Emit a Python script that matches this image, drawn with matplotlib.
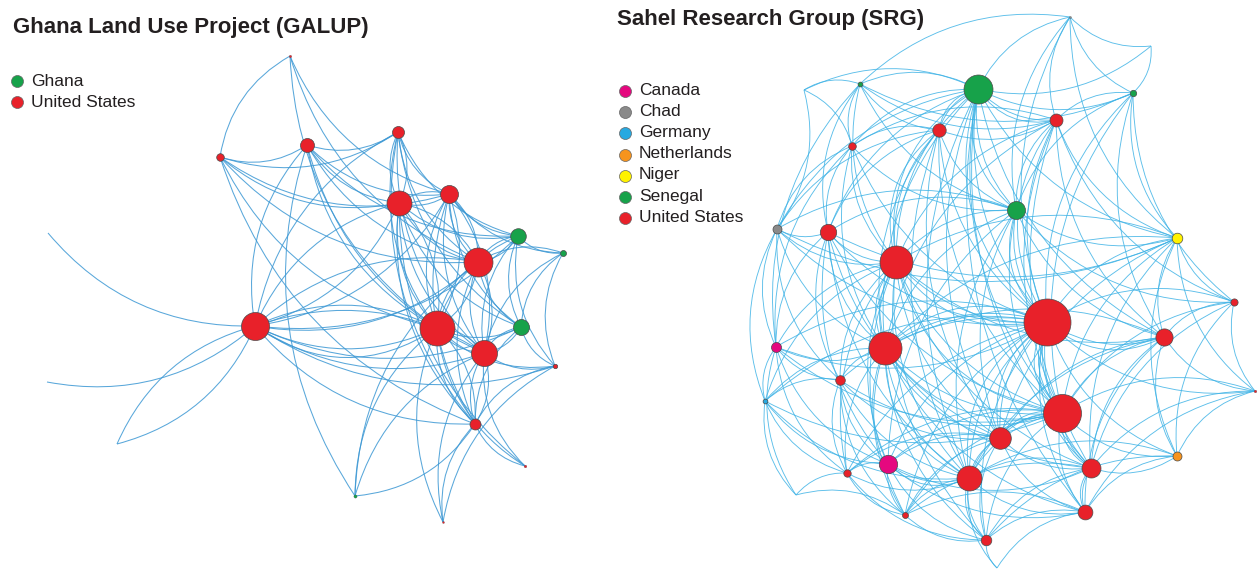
import numpy as np
import matplotlib
matplotlib.use("Agg")
import matplotlib.pyplot as plt
from matplotlib.path import Path
from matplotlib.patches import PathPatch

plt.rcParams['font.family'] = ['Liberation Sans', 'DejaVu Sans']

# ---------------- data: GALUP network ----------------
galup_title = "Ghana Land Use Project (GALUP)"
galup_countries = ["Ghana", "United States"]
# node layout positions (pixel space), node radius (weighted degree), country
galup_x = [290, 220, 307, 398, 399, 449, 518, 563, 478, 255, 437, 521, 484, 555, 475, 525, 355, 443, 48, 47, 117]
galup_y = [56, 157, 145, 132, 203, 194, 236, 253, 262, 326, 328, 327, 353, 366, 424, 466, 496, 522, 233, 382, 444]
galup_r = [1.2, 3.8, 7, 6, 12.5, 9, 7.8, 3, 14.5, 14, 17.5, 8, 13, 2.2, 5.5, 1.3, 1.6, 1.0, 0, 0, 0]
galup_country = ["United States", "United States", "United States", "United States", "United States",
                 "United States", "Ghana", "Ghana", "United States", "United States", "United States",
                 "Ghana", "United States", "United States", "United States", "United States", "Ghana",
                 "United States", "", "", ""]
galup_edges = [
    (0, 1), (0, 5), (0, 10), (0, 8),
    (1, 2), (1, 3), (1, 4), (1, 5), (1, 10), (1, 14), (1, 8),
    (2, 3), (2, 4), (2, 5), (2, 8), (2, 9), (2, 10), (2, 12), (2, 6), (2, 16),
    (3, 4), (4, 3), (3, 5), (3, 8), (3, 10), (3, 12), (3, 11), (3, 14), (3, 9), (3, 6),
    (4, 5), (5, 4), (4, 8), (8, 4), (4, 10), (10, 4), (4, 12), (4, 6), (4, 11), (4, 14), (4, 15),
    (5, 8), (8, 5), (5, 10), (10, 5), (5, 12), (12, 5), (5, 6), (5, 11), (5, 14), (5, 7),
    (6, 8), (8, 6), (6, 7), (6, 11), (6, 12), (6, 10), (6, 13),
    (7, 8), (7, 11), (7, 13), (7, 12),
    (8, 10), (10, 8), (8, 12), (12, 8), (8, 11), (8, 14), (8, 16),
    (18, 9), (19, 9), (20, 9), (9, 20), (9, 4), (4, 9), (9, 5), (9, 8), (8, 9),
    (9, 10), (10, 9), (9, 10), (9, 12), (12, 9), (9, 13), (9, 11), (9, 14), (9, 6),
    (10, 12), (12, 10), (10, 11), (10, 13), (10, 14), (14, 10), (10, 16), (10, 17), (10, 15),
    (11, 12), (12, 11), (11, 13), (11, 14),
    (12, 13), (12, 14), (14, 12), (12, 15), (12, 16), (12, 17),
    (13, 14), (14, 15), (14, 17), (13, 17), (16, 14),
]

# ---------------- data: SRG network ----------------
srg_title = "Sahel Research Group (SRG)"
srg_countries = ["Canada", "Chad", "Germany", "Netherlands", "Niger", "Senegal", "United States"]
srg_x = [1070, 978, 860, 1133, 939, 1056, 852, 1016, 777, 828, 1177, 896, 1234, 1047, 1164, 776, 885, 840, 765,
         1255, 1062, 1000, 888, 1091, 1177, 847, 969, 1085, 905, 986, 804, 1151, 796, 997]
srg_y = [17, 89, 84, 93, 130, 120, 146, 210, 229, 232, 238, 262, 302, 322, 337, 347, 348, 380, 401,
         391, 413, 438, 464, 468, 456, 473, 478, 512, 515, 540, 90, 46, 495, 568]
srg_r = [1.0, 14.5, 2.4, 3.2, 6.7, 6.5, 3.8, 9, 4.5, 8.2, 5.3, 16.5, 3.6, 23.5, 8.6, 5, 16.5, 4.8, 2.4,
         1.3, 19, 10.8, 9.2, 9.5, 4.5, 3.7, 12.5, 7.4, 3.0, 5.3, 0, 0, 0, 0]
srg_country = ["Chad", "Senegal", "Senegal", "Senegal", "United States", "United States", "United States",
               "Senegal", "Chad", "United States", "Niger", "United States", "United States", "United States",
               "United States", "Canada", "United States", "United States", "Germany", "United States",
               "United States", "United States", "Canada", "United States", "Netherlands", "United States",
               "United States", "United States", "United States", "United States", "", "", "", ""]
srg_adjacency = {
    0: [1, 3, 5, 7, 31, 13, 10, 2],
    1: [2, 3, 4, 4, 5, 5, 6, 7, 7, 9, 11, 11, 13, 13, 16, 20, 21, 23, 26, 30, 31, 10, 14, 27, 8],
    2: [4, 6, 9, 11, 30, 5, 7, 3, 15],
    3: [5, 7, 10, 13, 14, 12, 31, 20],
    4: [5, 6, 7, 9, 11, 11, 13, 16, 20, 21, 26, 8],
    5: [7, 10, 11, 13, 13, 14, 20, 23, 6, 16, 12],
    6: [8, 9, 11, 13, 16, 30, 7, 15],
    7: [9, 10, 11, 13, 13, 14, 16, 20, 21, 26, 8, 12, 22],
    8: [9, 11, 13, 15, 16, 17, 10, 30, 18],
    9: [11, 13, 15, 16, 17, 20, 21, 26, 10, 22],
    10: [11, 12, 13, 14, 16, 20, 23, 24, 21, 19],
    11: [13, 13, 14, 15, 16, 16, 17, 20, 20, 21, 22, 23, 25, 26, 28, 29, 18],
    12: [13, 14, 19, 20, 24, 23],
    13: [14, 14, 15, 16, 16, 17, 20, 20, 20, 21, 21, 22, 23, 23, 24, 25, 26, 26, 27, 28, 29, 18, 19],
    14: [16, 19, 20, 21, 23, 24, 26, 27],
    15: [16, 17, 18, 20, 22, 25, 13, 32],
    16: [17, 18, 20, 20, 21, 22, 23, 25, 26, 26, 27, 28, 29],
    17: [18, 20, 22, 25, 26, 28, 21],
    18: [22, 25, 26, 32, 20],
    19: [20, 23, 24, 27],
    20: [21, 21, 22, 23, 23, 24, 25, 26, 26, 27, 28, 29],
    21: [22, 23, 25, 26, 27, 28, 29],
    22: [25, 26, 26, 27, 28, 29, 23],
    23: [24, 26, 27, 27, 29, 28],
    24: [26, 27, 29],
    25: [26, 28, 29, 32],
    26: [27, 28, 29, 29, 33],
    27: [28, 29, 33],
    28: [29, 32],
    29: [33],
}

country_colors = {
    "Ghana": "#17a24a", "United States": "#e8212a", "Canada": "#e5087f", "Chad": "#8a8a8a",
    "Germany": "#27a9e1", "Netherlands": "#f7941d", "Niger": "#fff200", "Senegal": "#17a24a",
}

# ---------------- drawing ----------------
W, H = 1257, 569
fig = plt.figure(figsize=(W / 100, H / 100), dpi=100)
ax = fig.add_axes([0, 0, 1, 1])
ax.set_xlim(0, W)
ax.set_ylim(H, 0)
ax.axis("off")


def draw_edges(xs, ys, edges, color, lw):
    seen = {}
    for s, t in edges:
        n = seen.get((s, t), 0)
        seen[(s, t)] = n + 1
        x0, y0, x1, y1 = xs[s], ys[s], xs[t], ys[t]
        dx, dy = x1 - x0, y1 - y0
        k = 0.24 * (1 + 0.4 * n)
        cx = (x0 + x1) / 2 - k * dy
        cy = (y0 + y1) / 2 + k * dx
        path = Path([(x0, y0), (cx, cy), (x1, y1)], [Path.MOVETO, Path.CURVE3, Path.CURVE3])
        ax.add_patch(PathPatch(path, fc="none", ec=color, lw=lw, alpha=0.85, zorder=1))


def draw_nodes(xs, ys, rs, countries):
    for x, y, r, c in zip(xs, ys, rs, countries):
        if r <= 0:
            continue
        d_pt = 2 * r * 72 / 100
        ax.scatter([x], [y], s=d_pt ** 2, c=country_colors[c], edgecolors="#4a4a4a",
                   linewidths=0.5 if r > 2 else 0.2, zorder=3)


draw_edges(galup_x, galup_y, galup_edges, "#3c98d4", 0.75)
srg_edges = [(s, t) for s, ts in srg_adjacency.items() for t in ts]
draw_edges(srg_x, srg_y, srg_edges, "#3fb3e6", 0.65)
draw_nodes(galup_x, galup_y, galup_r, galup_country)
draw_nodes(srg_x, srg_y, srg_r, srg_country)

# titles
ax.text(13, 32.5, galup_title, fontsize=16, fontweight="bold", color="#231f20", va="baseline")
ax.text(617, 24.5, srg_title, fontsize=16, fontweight="bold", color="#231f20", va="baseline")

# legends
leg_d = (2 * 6 * 72 / 100) ** 2
for i, c in enumerate(galup_countries):
    y = 81.3 + i * 20.5
    ax.scatter([16.7], [y], s=leg_d, c=country_colors[c], edgecolors="#666666", linewidths=0.5, zorder=3)
    ax.text(31, y + 0.5, c, fontsize=12.5, color="#231f20", va="center")
for i, c in enumerate(srg_countries):
    y = 91 + i * 21.2
    ax.scatter([625], [y], s=leg_d, c=country_colors[c], edgecolors="#666666", linewidths=0.5, zorder=3)
    ax.text(639, y - 1, c, fontsize=12.5, color="#231f20", va="center")

fig.savefig("out.png", dpi=100, facecolor="white")
